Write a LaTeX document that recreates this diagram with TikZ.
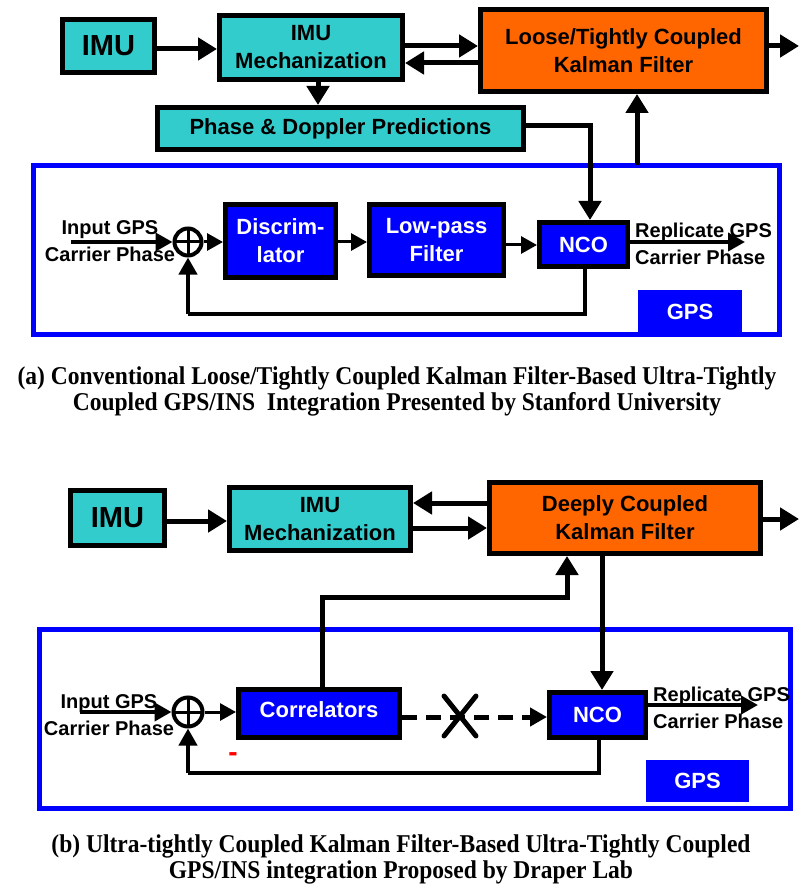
\documentclass[tikz,border=0pt]{standalone}
\usepackage{fontspec}
\setmainfont{Liberation Serif}
\setsansfont{Liberation Sans}
\usetikzlibrary{arrows.meta,calc}
\definecolor{boxcyan}{HTML}{33CCCC}
\definecolor{kforange}{HTML}{FF6600}
\definecolor{loopblue}{HTML}{0000FF}
% caption lines are set wide and tall
\newcommand{\capline}[1]{\scalebox{1.12}[1.22]{#1}}
\begin{document}
\begin{tikzpicture}[x=1pt,y=-1pt,
  box/.style={draw=black,line width=5pt,inner sep=0pt,align=center,
    font=\sffamily\bfseries\fontsize{22}{28}\selectfont},
  cyanbox/.style={box,fill=boxcyan},
  kfbox/.style={box,fill=kforange},
  bluebox/.style={box,fill=loopblue,text=white},
  tagbox/.style={fill=loopblue,text=white,inner sep=0pt,
    font=\sffamily\bfseries\fontsize{22}{28}\selectfont},
  loopframe/.style={draw=loopblue,line width=5pt},
  sumnode/.style={circle,draw=black,line width=4pt,fill=white,minimum size=27pt,inner sep=0pt,
    path picture={\draw[line width=3pt] (path picture bounding box.north) -- (path picture bounding box.south)
      (path picture bounding box.west) -- (path picture bounding box.east);}},
  sig/.style={font=\sffamily\bfseries\fontsize{20}{27}\selectfont,inner sep=0pt},
  caption/.style={font=\bfseries\fontsize{21}{26}\selectfont,inner sep=0pt,align=center},
  arr/.style={line width=5pt,-{Triangle[length=19pt,width=22pt]}},
  midarr/.style={line width=4pt,-{Triangle[length=17pt,width=18pt]}},
  thinarr/.style={line width=3pt,-{Triangle[length=16pt,width=17pt]}},
  link/.style={line width=5pt},
  fb/.style={line width=4pt,line join=miter},
]
\useasboundingbox (0,0) rectangle (799,890);

%% ---------------- (a) conventional architecture ----------------
\node[cyanbox,minimum width=92pt,minimum height=53pt,font=\sffamily\bfseries\fontsize{29}{30}\selectfont] (imuA) at (108.5,46) {IMU};
\node[cyanbox,minimum width=183pt,minimum height=64pt] (mechA) at (311,47.5) {IMU\\Mechanization};
\node[kfbox,minimum width=286pt,minimum height=82pt] (kfA) at (623.5,50.5) {Loose/Tightly Coupled\\Kalman Filter};
\node[cyanbox,minimum width=366pt,minimum height=42pt] (pdA) at (340.5,128.5) {Phase \& Doppler Predictions};

\draw[loopframe] (33.5,165.5) rectangle (779.5,334.5);
\path (33.5,165.5) coordinate (frameAtop);

\node[sumnode] (sumA) at (188,242) {};
\node[bluebox,minimum width=110pt,minimum height=73pt] (discA) at (280.5,241) {Discrim-\\lator};
\node[bluebox,minimum width=134pt,minimum height=71pt] (lpfA) at (436.5,240) {Low-pass\\Filter};
\node[bluebox,minimum width=88pt,minimum height=44pt] (ncoA) at (583.5,244.5) {NCO};
\node[tagbox,minimum width=104pt,minimum height=43pt] (gpsA) at (690,311.5) {GPS};

\node[sig,align=center] (inA) at (110,241) {Input GPS\\Carrier Phase};
\node[sig,align=left,anchor=west] (outA) at (635,243.5) {Replicate GPS\\Carrier Phase};

% helper rows and columns
\path (0,49) coordinate (rA0) (0,46) coordinate (rA1) (0,63) coordinate (rA2)
      (0,126) coordinate (rA3) (0,242) coordinate (rA4) (0,245) coordinate (rA5)
      (0,314) coordinate (rA6)
      (318,0) coordinate (cA1) (590,0) coordinate (cA2) (637,0) coordinate (cA3)
      (585,0) coordinate (cA4);
\coordinate (kfAout) at (799,46);
\coordinate (inAstart) at (71,242);
\coordinate (outAend) at (745,242);

\draw[arr] (imuA.east |- rA0) -- (mechA.west |- rA0);
\draw[arr] (mechA.east |- rA1) -- (kfA.west |- rA1);
\draw[arr] (kfA.west |- rA2) -- (mechA.east |- rA2);
\draw[arr] (kfA.east |- rA1) -- (kfAout);
\draw[arr] (mechA.south -| cA1) -- (pdA.north -| cA1);
\draw[arr,line join=miter] (pdA.east |- rA3) -| (ncoA.north -| cA2);
\draw[arr] (frameAtop -| cA3) -- (kfA.south -| cA3);

\draw[midarr] (inAstart) -- (sumA.west);
\draw[thinarr] (sumA.east) -- (discA.west |- rA4);
\draw[thinarr] (discA.east |- rA4) -- (lpfA.west |- rA4);
\draw[thinarr] (lpfA.east |- rA5) -- (ncoA.west |- rA5);
\draw[midarr] (ncoA.east |- rA4) -- (outAend);
\draw[fb] (ncoA.south -| cA4) -- (cA4 |- rA6) -- (sumA |- rA6);
\draw[midarr] (sumA |- rA6) -- (sumA.south);

\node[caption] (capA) at (397,391) {\capline{(a) Conventional Loose/Tightly Coupled Kalman Filter-Based Ultra-Tightly}\\\capline{Coupled GPS/INS~~Integration Presented by Stanford University}};

%% ---------------- (b) deeply coupled architecture ----------------
\node[cyanbox,minimum width=94pt,minimum height=55pt,font=\sffamily\bfseries\fontsize{29}{30}\selectfont] (imuB) at (117.5,518) {IMU};
\node[cyanbox,minimum width=181pt,minimum height=63pt] (mechB) at (320,519) {IMU\\Mechanization};
\node[kfbox,minimum width=271pt,minimum height=71pt] (kfB) at (625,518) {Deeply Coupled\\Kalman Filter};

\draw[loopframe] (39.5,629.5) rectangle (790.5,808.5);

\node[sumnode,minimum size=29pt] (sumB) at (188,712) {};
\node[bluebox,minimum width=161pt,minimum height=48pt,text depth=8pt] (corrB) at (319,713.5) {Correlators};
\node[bluebox,minimum width=96pt,minimum height=45pt] (ncoB) at (597.5,715) {NCO};
\node[tagbox,minimum width=103pt,minimum height=42pt] (gpsB) at (697.5,781) {GPS};

\node[sig,align=center] (inB) at (109,715) {Input GPS\\Carrier Phase};
\node[sig,align=left,anchor=west] (outB) at (653,707.5) {Replicate GPS\\Carrier Phase};
\node[text=red,font=\sffamily\bfseries\fontsize{28}{28}\selectfont,inner sep=0pt] (minusB) at (233,757) {-};

\path (0,521) coordinate (rB0) (0,503) coordinate (rB1) (0,528) coordinate (rB2)
      (0,519) coordinate (rB3) (0,597) coordinate (rB4) (0,712) coordinate (rB5)
      (0,717) coordinate (rB6) (0,705) coordinate (rB7) (0,773) coordinate (rB8)
      (322,0) coordinate (cB1) (567,0) coordinate (cB2) (602,0) coordinate (cB3)
      (599,0) coordinate (cB4);
\coordinate (kfBout) at (799,519);
\coordinate (inBstart) at (80,712);
\coordinate (outBend) at (758,705);
\coordinate (cut) at (460,716);

\draw[arr] (imuB.east |- rB0) -- (mechB.west |- rB0);
\draw[arr] (kfB.west |- rB1) -- (mechB.east |- rB1);
\draw[arr] (mechB.east |- rB2) -- (kfB.west |- rB2);
\draw[arr] (kfB.east |- rB3) -- (kfBout);
\draw[arr,line join=miter] (corrB.north -| cB1) -- (cB1 |- rB4) -| (kfB.south -| cB2);
\draw[arr] (kfB.south -| cB3) -- (ncoB.north -| cB3);

\draw[midarr] (inBstart) -- (sumB.west);
\draw[thinarr] (sumB.east) -- (corrB.west |- rB5);
\draw[line width=5pt,dash pattern=on 15pt off 9pt,-{Triangle[length=17pt,width=18pt]}] (corrB.east |- rB6) -- (ncoB.west |- rB6);
\draw[line width=5pt,line cap=round] ($(cut)+(-16,-20)$) -- ($(cut)+(16,20)$)
  ($(cut)+(16,-20)$) -- ($(cut)+(-16,20)$);
\draw[midarr] (ncoB.east |- rB7) -- (outBend);
\draw[fb] (ncoB.south -| cB4) -- (cB4 |- rB8) -- (sumB |- rB8);
\draw[midarr] (sumB |- rB8) -- (sumB.south);

\node[caption] (capB) at (401,859) {\capline{(b) Ultra-tightly Coupled Kalman Filter-Based Ultra-Tightly Coupled}\\\capline{GPS/INS integration Proposed by Draper Lab}};
\end{tikzpicture}
\end{document}
